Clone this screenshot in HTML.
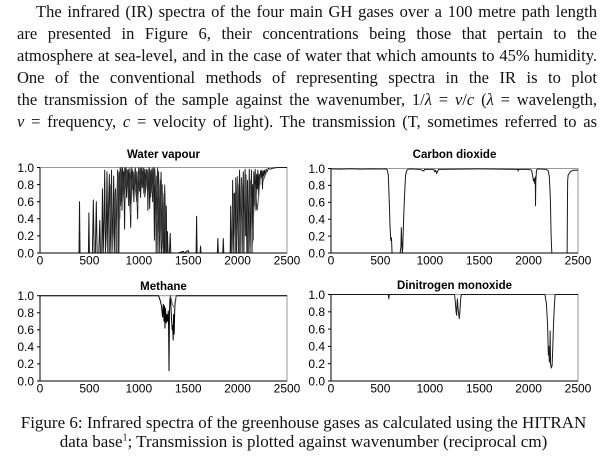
<!DOCTYPE html>
<html><head><meta charset="utf-8">
<style>
html,body{margin:0;padding:0;background:#fff;}
body{width:607px;height:456px;position:relative;overflow:hidden;}
.p{position:absolute;left:17px;width:580px;font-family:"Liberation Serif",serif;font-size:16.5px;line-height:22px;white-space:nowrap;text-align:justify;text-align-last:justify;color:#111;}
.cap{position:absolute;left:0;width:607px;text-align:center;font-family:"Liberation Serif",serif;font-size:17px;line-height:19px;white-space:nowrap;color:#111;}
svg{position:absolute;left:0;top:0;}
</style></head><body>
<div class="p" style="top:1px;left:36px;width:561px;">The infrared (IR) spectra of the four main GH gases over a 100 metre path length</div>
<div class="p" style="top:23px;">are presented in Figure 6, their concentrations being those that pertain to the</div>
<div class="p" style="top:45px;">atmosphere at sea-level, and in the case of water that which amounts to 45% humidity.</div>
<div class="p" style="top:67px;">One of the conventional methods of representing spectra in the IR is to plot</div>
<div class="p" style="top:89px;">the transmission of the sample against the wavenumber, 1/<i>λ</i> = <i>ν</i>/<i>c</i> (<i>λ</i> = wavelength,</div>
<div class="p" style="top:111px;"><i>ν</i> = frequency, <i>c</i> = velocity of light). The transmission (T, sometimes referred to as</div>

<svg width="607" height="456" viewBox="0 0 607 456" font-family="Liberation Sans, Arial, sans-serif" font-size="12">
<!-- Titles -->
<g font-weight="bold" text-anchor="middle" font-size="11.5">
<text x="163.5" y="158">Water vapour</text>
<text x="454.5" y="158">Carbon dioxide</text>
<text x="163.5" y="290">Methane</text>
<text x="454.5" y="289">Dinitrogen monoxide</text>
</g>

<!-- Water vapour panel -->
<g>
<rect x="40" y="167.5" width="247" height="85.5" fill="none" stroke="#999" stroke-width="1"/>
<svg x="40" y="167.5" width="247" height="85.5" viewBox="0 0 2500 100" preserveAspectRatio="none" overflow="visible">
<polyline fill="none" stroke="#1a1a1a" stroke-width="1" vector-effect="non-scaling-stroke" stroke-linejoin="round" points="0,100 395,100 400,40 405,100 490,100 495,53 500,100 530,100 540,38 548,100 560,100 570,40 578,100 595,100 605,62 612,100 625,100 632,25 640,100 648,60 655,3 662,100 670,80 678,5 686,100 695,40 702,8 710,100 718,60 724,3 730,100 740,50 746,10 752,100 758,55 764,25 770,100 778,40 786,3 792,45 798,100 804,30 812,0 818,40 824,8 830,50 836,0 842,25 848,5 856,72 862,15 870,0 876,35 882,8 888,20 894,2 900,30 906,6 912,40 918,70 924,10 930,0 936,25 942,8 950,40 956,15 962,2 968,20 974,5 982,30 988,60 994,12 1000,0 1006,20 1012,4 1018,35 1026,8 1032,0 1038,18 1044,5 1050,30 1056,10 1062,2 1068,25 1074,8 1080,15 1086,3 1092,50 1098,10 1104,0 1110,48 1116,15 1122,3 1128,25 1134,5 1140,40 1146,0 1152,22 1158,85 1164,6 1170,30 1176,100 1182,10 1188,40 1194,100 1200,5 1206,50 1212,100 1218,15 1224,60 1230,100 1236,20 1242,70 1248,100 1254,40 1260,100 1266,60 1272,100 1278,45 1284,100 1290,75 1296,100 1310,100 1318,77 1324,100 1400,100 1450,98 1460,100 1500,97 1510,100 1580,100 1585,57 1590,100 1620,100 1625,92 1630,100 1795,100 1800,83 1805,100 1850,100 1855,83 1860,100 1925,100 1930,45 1936,100 1945,75 1950,15 1956,100 1962,50 1968,30 1975,100 1982,12 1988,100 1995,60 2002,20 2008,100 2014,35 2020,3 2026,100 2032,45 2038,12 2046,100 2052,30 2058,5 2064,100 2070,50 2076,2 2082,80 2088,30 2094,100 2100,15 2106,100 2112,60 2118,2 2126,100 2134,40 2140,3 2146,100 2152,20 2158,85 2164,5 2170,45 2178,2 2186,50 2192,8 2198,25 2205,3 2212,35 2218,8 2225,20 2232,4 2238,12 2245,3 2252,25 2258,4 2266,10 2272,3 2280,8 2290,2 2300,5 2310,1 2330,2 2350,1 2400,0 2500,0"/>
<polyline fill="none" stroke="#555" stroke-width="1" vector-effect="non-scaling-stroke" points="700,100 715,20 728,100 760,30 775,100 790,10 808,60 820,0 850,40 880,2 915,55 945,5 985,45 1015,0 1060,35 1095,5 1135,30 1160,0 1185,70 1205,20 1235,90 1255,30 1275,100 1940,100 1958,30 1978,100 1998,10 2018,100 2042,20 2060,100 2085,8 2110,100 2130,15 2150,90 2175,20 2200,50 2230,10 2260,15 2300,3"/>
<polyline fill="none" stroke="#333" stroke-width="1" vector-effect="non-scaling-stroke" points="790,100 800,5 815,45 827,2 845,30 858,0 872,25 885,4 897,45 910,0 925,30 937,3 953,22 966,0 980,40 992,5 1008,28 1022,1 1036,24 1049,0 1064,30 1078,2 1091,22 1107,0 1120,35 1133,1 1148,20 1162,2 1178,55 1190,0 1210,80 1225,5 1245,95 1262,20 1280,100"/>
</svg>
<line x1="40" y1="167.5" x2="40" y2="253" stroke="#000"/>
<line x1="40" y1="253" x2="287" y2="253" stroke="#000"/>
<g stroke="#000"><line x1="37" y1="167.5" x2="40" y2="167.5"/><line x1="37" y1="184.6" x2="40" y2="184.6"/><line x1="37" y1="201.7" x2="40" y2="201.7"/><line x1="37" y1="218.8" x2="40" y2="218.8"/><line x1="37" y1="235.9" x2="40" y2="235.9"/><line x1="37" y1="253" x2="40" y2="253"/></g>
<g text-anchor="end"><text x="34" y="171.8">1.0</text><text x="34" y="188.9">0.8</text><text x="34" y="206">0.6</text><text x="34" y="223.1">0.4</text><text x="34" y="240.2">0.2</text><text x="34" y="257.3">0.0</text></g>
<g text-anchor="middle"><text x="40" y="264.5">0</text><text x="89.4" y="264.5">500</text><text x="138.8" y="264.5">1000</text><text x="188.2" y="264.5">1500</text><text x="237.6" y="264.5">2000</text><text x="287" y="264.5">2500</text></g>
</g>

<!-- Carbon dioxide panel -->
<g>
<rect x="331" y="168.5" width="247" height="84.5" fill="none" stroke="#999" stroke-width="1"/>
<svg x="331" y="168.5" width="247" height="84.5" viewBox="0 0 2500 100" preserveAspectRatio="none" overflow="visible">
<polyline fill="none" stroke="#1a1a1a" stroke-width="1" vector-effect="non-scaling-stroke" stroke-linejoin="round" points="0,0.5 100,0.8 200,0.3 300,0.7 400,0.4 500,0.6 560,0.5 570,2 580,8 590,40 598,70 605,85 612,82 618,100 625,100 700,100 708,92 712,70 716,85 722,100 726,95 735,60 745,30 755,8 765,3 775,1 800,0.5 900,1 940,3 945,1 1040,1 1050,4 1060,2 1070,6 1080,3 1090,1 1500,0.5 1890,1 1895,3 1900,1 2000,1 2030,2 2040,8 2050,15 2058,12 2062,18 2068,10 2070,44 2073,15 2080,2 2090,0.5 2180,1 2200,3 2210,10 2220,35 2228,80 2235,100 2390,100 2395,15 2400,8 2420,4 2450,2 2500,2"/>
</svg>
<line x1="331" y1="168.5" x2="331" y2="253" stroke="#000"/>
<line x1="331" y1="253" x2="578" y2="253" stroke="#000"/>
<g stroke="#000"><line x1="328" y1="168.5" x2="331" y2="168.5"/><line x1="328" y1="185.4" x2="331" y2="185.4"/><line x1="328" y1="202.3" x2="331" y2="202.3"/><line x1="328" y1="219.2" x2="331" y2="219.2"/><line x1="328" y1="236.1" x2="331" y2="236.1"/><line x1="328" y1="253" x2="331" y2="253"/></g>
<g text-anchor="end"><text x="325" y="172.8">1.0</text><text x="325" y="189.7">0.8</text><text x="325" y="206.6">0.6</text><text x="325" y="223.5">0.4</text><text x="325" y="240.4">0.2</text><text x="325" y="257.3">0.0</text></g>
<g text-anchor="middle"><text x="331" y="264.5">0</text><text x="380.4" y="264.5">500</text><text x="429.8" y="264.5">1000</text><text x="479.2" y="264.5">1500</text><text x="528.6" y="264.5">2000</text><text x="578" y="264.5">2500</text></g>
</g>

<!-- Methane panel -->
<g>
<rect x="40" y="295.7" width="247" height="85.3" fill="none" stroke="#999" stroke-width="1"/>
<svg x="40" y="295.7" width="247" height="85.3" viewBox="0 0 2500 100" preserveAspectRatio="none" overflow="visible">
<polyline fill="none" stroke="#000" stroke-width="1" vector-effect="non-scaling-stroke" stroke-linejoin="round" points="0,0 1200,0 1215,5 1230,12 1240,25 1248,10 1255,30 1260,12 1265,38 1270,15 1278,32 1285,22 1292,30 1298,18 1302,40 1306,88 1310,20 1315,5 1320,0 1330,25 1338,40 1343,35 1348,52 1352,22 1358,45 1364,15 1370,5 1380,0 2500,0"/>
<polyline fill="none" stroke="#555" stroke-width="1" vector-effect="non-scaling-stroke" points="1320,0 1340,10 1365,15 1378,0"/>
</svg>
<line x1="40" y1="295.7" x2="40" y2="381" stroke="#000"/>
<line x1="40" y1="381" x2="287" y2="381" stroke="#000"/>
<g stroke="#000"><line x1="37" y1="295.7" x2="40" y2="295.7"/><line x1="37" y1="312.8" x2="40" y2="312.8"/><line x1="37" y1="329.8" x2="40" y2="329.8"/><line x1="37" y1="346.9" x2="40" y2="346.9"/><line x1="37" y1="363.9" x2="40" y2="363.9"/><line x1="37" y1="381" x2="40" y2="381"/></g>
<g text-anchor="end"><text x="34" y="300">1.0</text><text x="34" y="317.1">0.8</text><text x="34" y="334.1">0.6</text><text x="34" y="351.2">0.4</text><text x="34" y="368.2">0.2</text><text x="34" y="385.3">0.0</text></g>
<g text-anchor="middle"><text x="40" y="392.5">0</text><text x="89.4" y="392.5">500</text><text x="138.8" y="392.5">1000</text><text x="188.2" y="392.5">1500</text><text x="237.6" y="392.5">2000</text><text x="287" y="392.5">2500</text></g>
</g>

<!-- Dinitrogen monoxide panel -->
<g>
<rect x="331" y="294.5" width="247" height="86.5" fill="none" stroke="#999" stroke-width="1"/>
<svg x="331" y="294.5" width="247" height="86.5" viewBox="0 0 2500 100" preserveAspectRatio="none" overflow="visible">
<polyline fill="none" stroke="#1a1a1a" stroke-width="1" vector-effect="non-scaling-stroke" stroke-linejoin="round" points="0,0 580,0 585,5 590,0 1250,0 1258,8 1266,20 1272,24 1276,10 1280,5 1285,15 1292,22 1298,28 1305,20 1312,5 1320,0 2165,0 2180,10 2192,35 2200,70 2205,60 2210,78 2215,75 2218,42 2222,80 2230,85 2238,82 2245,60 2252,35 2260,15 2268,0 2500,0"/>
</svg>
<line x1="331" y1="294.5" x2="331" y2="381" stroke="#000"/>
<line x1="331" y1="381" x2="578" y2="381" stroke="#000"/>
<g stroke="#000"><line x1="328" y1="294.5" x2="331" y2="294.5"/><line x1="328" y1="311.8" x2="331" y2="311.8"/><line x1="328" y1="329.1" x2="331" y2="329.1"/><line x1="328" y1="346.4" x2="331" y2="346.4"/><line x1="328" y1="363.7" x2="331" y2="363.7"/><line x1="328" y1="381" x2="331" y2="381"/></g>
<g text-anchor="end"><text x="325" y="298.8">1.0</text><text x="325" y="316.1">0.8</text><text x="325" y="333.4">0.6</text><text x="325" y="350.7">0.4</text><text x="325" y="368">0.2</text><text x="325" y="385.3">0.0</text></g>
<g text-anchor="middle"><text x="331" y="392.5">0</text><text x="380.4" y="392.5">500</text><text x="429.8" y="392.5">1000</text><text x="479.2" y="392.5">1500</text><text x="528.6" y="392.5">2000</text><text x="578" y="392.5">2500</text></g>
</g>
</svg>

<div class="cap" style="top:413px;">Figure 6: Infrared spectra of the greenhouse gases as calculated using the HITRAN</div>
<div class="cap" style="top:432px;">data base<sup style="font-size:10px;line-height:0;">1</sup>; Transmission is plotted against wavenumber (reciprocal cm)</div>
</body></html>
